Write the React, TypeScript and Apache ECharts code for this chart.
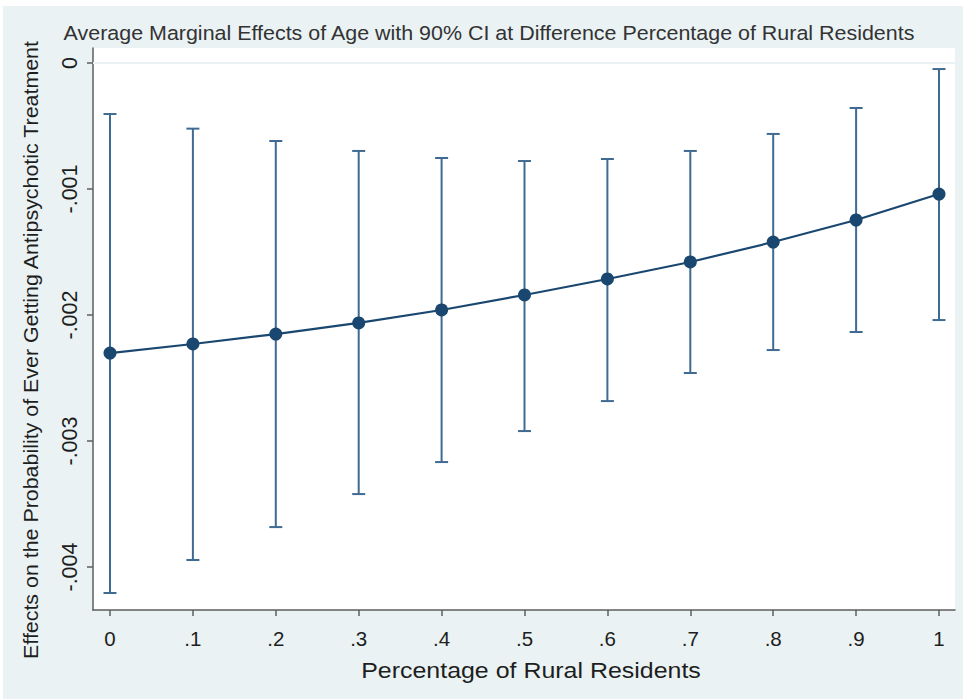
import React, { useEffect, useRef } from "react";
import * as echarts from "echarts";

const ruralShare = [0, 0.1, 0.2, 0.3, 0.4, 0.5, 0.6, 0.7, 0.8, 0.9, 1];
const meanEffect = [-0.002302, -0.00223, -0.002151, -0.002063, -0.00196, -0.001841, -0.001714, -0.001579, -0.001421, -0.001246, -0.00104];
const ciUpper = [-0.000405, -0.000521, -0.000619, -0.000698, -0.000754, -0.000778, -0.000762, -0.000698, -0.000563, -0.000357, -0.000048];
const ciLower = [-0.004206, -0.003944, -0.003683, -0.003421, -0.003167, -0.002921, -0.002683, -0.00246, -0.002278, -0.002135, -0.00204];

const xTickValues = [0, 0.1, 0.2, 0.3, 0.4, 0.5, 0.6, 0.7, 0.8, 0.9, 1];
const xTickLabels = ["0", ".1", ".2", ".3", ".4", ".5", ".6", ".7", ".8", ".9", "1"];
const yTickValues = [0, -0.001, -0.002, -0.003, -0.004];
const yTickLabels = ["0", "-.001", "-.002", "-.003", "-.004"];

const titleText = "Average Marginal Effects of Age with 90% CI at Difference Percentage of Rural Residents";
const xTitle = "Percentage of Rural Residents";
const yTitle = "Effects on the Probability of Ever Getting Antipsychotic Treatment";

const lookup = (vals: number[], labels: string[]) => (v: number) => {
  for (let i = 0; i < vals.length; i++) {
    if (Math.abs(vals[i] - v) < 1e-9) return labels[i];
  }
  return "";
};

export default function App() {
  const ref = useRef<HTMLDivElement>(null);
  useEffect(() => {
    if (!ref.current) return;
    const chart = echarts.init(ref.current, null, { renderer: "svg" });
    const navy = "#1A476F";
    const ciColor = "#3F6A92";
    const axisColor = "#5E5E5E";
    const textColor = "#1E1E1E";
    const font = "Liberation Sans, Arial, sans-serif";
    chart.setOption({
      animation: false,
      backgroundColor: "#EAF2F3",
      textStyle: { fontFamily: font },
      graphic: [
        { type: "rect", shape: { x: 0, y: 0, width: 963, height: 6 }, style: { fill: "#ffffff" }, silent: true },
        { type: "rect", shape: { x: 0, y: 0, width: 3, height: 699 }, style: { fill: "#ffffff" }, silent: true },
        {
          type: "text",
          x: 489,
          y: 33,
          scaleX: 1.1,
          style: {
            text: titleText,
            align: "center",
            verticalAlign: "middle",
            fontSize: 19.5,
            fontFamily: font,
            fill: "#333333",
          },
        },
        {
          type: "text",
          x: 531,
          y: 670,
          scaleX: 1.085,
          style: {
            text: xTitle,
            align: "center",
            verticalAlign: "middle",
            fontSize: 23,
            fontFamily: font,
            fill: textColor,
          },
        },
        {
          type: "text",
          x: 31,
          y: 350,
          rotation: Math.PI / 2,
          scaleX: 1.07,
          style: {
            text: yTitle,
            align: "center",
            verticalAlign: "middle",
            fontSize: 20,
            fontFamily: font,
            fill: textColor,
          },
        },
      ],
      grid: {
        left: 93,
        top: 48,
        right: 8,
        bottom: 89,
        show: true,
        backgroundColor: "#ffffff",
        borderWidth: 0,
        containLabel: false,
      },
      xAxis: {
        type: "value",
        min: -0.0205,
        max: 1.0193,
        axisLine: { show: true, onZero: false, lineStyle: { color: axisColor, width: 1.5 } },
        axisTick: { show: true, length: 6, customValues: xTickValues, lineStyle: { color: axisColor, width: 1.5 } },
        axisLabel: {
          customValues: xTickValues,
          formatter: lookup(xTickValues, xTickLabels),
          fontSize: 20.5,
          color: textColor,
          margin: 18,
        },
        splitLine: { show: false },
      },
      yAxis: {
        type: "value",
        min: -0.004341,
        max: 0.000119,
        axisLine: { show: true, onZero: false, lineStyle: { color: axisColor, width: 1.5 } },
        axisTick: { show: true, length: 6, customValues: yTickValues, lineStyle: { color: axisColor, width: 1.5 } },
        axisLabel: {
          customValues: yTickValues,
          formatter: lookup(yTickValues, yTickLabels),
          rotate: 90,
          fontSize: 21.5,
          color: textColor,
          margin: 12,
        },
        splitLine: { show: false },
      },
      series: [
        {
          type: "line",
          data: [],
          silent: true,
          z: 1,
          markLine: {
            silent: true,
            symbol: "none",
            label: { show: false },
            lineStyle: { color: "#EAF2F3", width: 1.5, type: "solid" },
            data: yTickValues.map((v) => ({ yAxis: v })),
          },
        },
        {
          type: "custom",
          z: 2,
          data: ruralShare.map((x, i) => [x, ciLower[i], ciUpper[i]]),
          encode: { x: 0, y: [1, 2] },
          renderItem: (params: any, api: any) => {
            const x = api.value(0);
            const lo = api.value(1);
            const hi = api.value(2);
            const top = api.coord([x, hi]);
            const bot = api.coord([x, lo]);
            const hw = 6.5;
            const style = { stroke: ciColor, lineWidth: 2 };
            return {
              type: "group",
              children: [
                { type: "line", shape: { x1: top[0], y1: top[1], x2: bot[0], y2: bot[1] }, style },
                { type: "line", shape: { x1: top[0] - hw, y1: top[1], x2: top[0] + hw, y2: top[1] }, style },
                { type: "line", shape: { x1: bot[0] - hw, y1: bot[1], x2: bot[0] + hw, y2: bot[1] }, style },
              ],
            };
          },
        },
        {
          type: "line",
          z: 3,
          data: ruralShare.map((x, i) => [x, meanEffect[i]]),
          symbol: "circle",
          symbolSize: 13,
          lineStyle: { color: navy, width: 2.2 },
          itemStyle: { color: navy },
        },
      ],
    });
    return () => chart.dispose();
  }, []);
  return (
    <div style={{ position: "fixed", left: 0, top: 0, width: 963, height: 699, background: "#fff" }}>
      <div ref={ref} style={{ width: 963, height: 699 }} />
    </div>
  );
}
